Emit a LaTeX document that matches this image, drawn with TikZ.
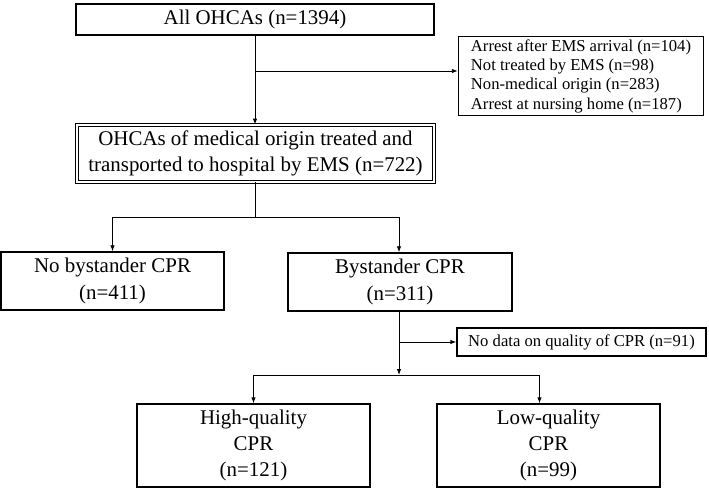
\documentclass[tikz,border=0pt]{standalone}
\usepackage{fontspec}
\setmainfont{Liberation Serif}
\usetikzlibrary{arrows.meta}

\begin{document}
\begin{tikzpicture}[x=1bp, y=-1bp]

	\def\xmain{255}
	\def\xbys{399}
	\def\ybrA{71}
	\def\ybrB{217}
	\def\ybrC{342}
	\def\ybrD{375}

	% Styles
	\tikzstyle{box} = [draw, line width=1.4bp, inner sep=0pt, align=center,
		font=\fontsize{21}{26.5}\selectfont]
	\tikzstyle{sidebox} = [box, align=left, font=\fontsize{16.7}{19.4}\selectfont]
	\tikzstyle{flow} = [line width=0.9bp, -{Latex[length=6bp, width=4.5bp]}]
	\tikzstyle{joint} = [line width=0.9bp]

	\useasboundingbox (0,0) rectangle (709,488);

	%== Boxes ================================================================
	\node[box, minimum width=358bp, minimum height=31bp] (all) at (255, 19.5)
		{All OHCAs (n=1394)};

	\node[sidebox, minimum width=245bp, minimum height=79bp] (excl) at (581, 76)
		{Arrest after EMS arrival (n=104)\\
		 Not treated by EMS (n=98)\\
		 Non-medical origin (n=283)\\
		 Arrest at nursing home (n=187)};

	\node[box, double, double distance=2bp, line width=0.8bp,
		minimum width=357bp, minimum height=57bp] (medical) at (255.5, 153.5)
		{OHCAs of medical origin treated and\\
		 transported to hospital by EMS (n=722)};

	\node[box, minimum width=223bp, minimum height=58bp] (nobys) at (112.5, 281)
		{No bystander CPR\\(n=411)};
	\node[box, minimum width=224bp, minimum height=58bp] (bys) at (400, 282)
		{Bystander CPR\\(n=311)};

	\node[sidebox, minimum width=249bp, minimum height=28bp] (nodata) at (581.5, 342)
		{No data on quality of CPR (n=91)};

	\node[box, minimum width=233bp, minimum height=83bp] (high) at (253.5, 445.5)
		{High-quality\\CPR\\(n=121)};
	\node[box, minimum width=223bp, minimum height=83bp] (low) at (548.5, 445.5)
		{Low-quality\\CPR\\(n=99)};

	%== Connectors ===========================================================
	\coordinate (brA) at (\xmain, \ybrA);
	\coordinate (brB) at (\xmain, \ybrB);
	\coordinate (brC) at (\xbys, \ybrC);
	\coordinate (brD) at (\xbys, \ybrD);
	\coordinate (lowin) at ([xshift=-9bp]low.north);

	\draw[flow] (all.south -| brA) -- (medical.north -| brA);
	\draw[flow] (brA) -- (brA -| excl.west);

	\draw[joint] (medical.south -| brB) -- (brB);
	\draw[flow] (brB) -| (nobys.north);
	\draw[flow] (brB) -| (bys.north -| brD);

	\draw[flow] (bys.south -| brD) -- (brD);
	\draw[flow] (brC) -- (brC -| nodata.west);

	\draw[joint] (high.north |- brD) -- (lowin |- brD);
	\draw[flow] (high.north |- brD) -- (high.north);
	\draw[flow] (lowin |- brD) -- (lowin);

\end{tikzpicture}
\end{document}
